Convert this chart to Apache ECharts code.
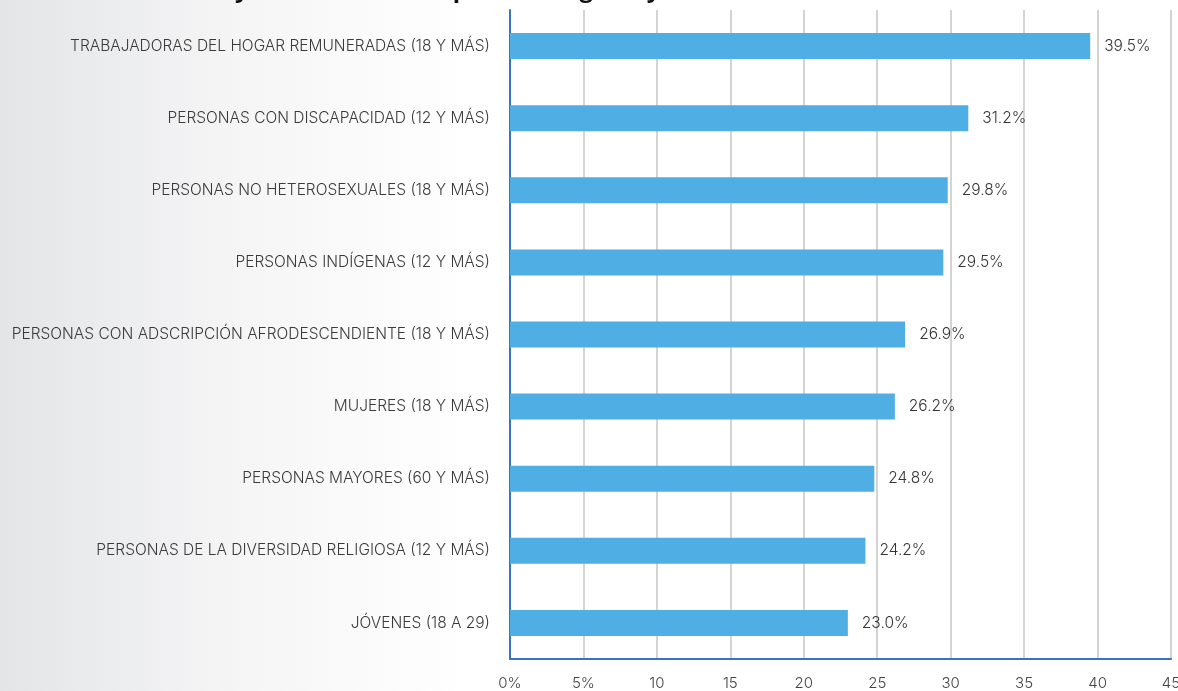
<!DOCTYPE html>
<html>
<head>
<meta charset="utf-8">
<script src="https://cdn.jsdelivr.net/npm/echarts@6/dist/echarts.min.js"></script>
<style>html,body{margin:0;padding:0;background:#fff}#c{width:1178px;height:691px}</style>
</head>
<body>
<div id="c"></div>
<script>
const titleText = 'Personas de 18 años y más rechazadas por la categoría y sexo';
const categories = [
  'TRABAJADORAS DEL HOGAR REMUNERADAS (18 Y MÁS)',
  'PERSONAS CON DISCAPACIDAD (12 Y MÁS)',
  'PERSONAS NO HETEROSEXUALES (18 Y MÁS)',
  'PERSONAS INDÍGENAS (12 Y MÁS)',
  'PERSONAS CON ADSCRIPCIÓN AFRODESCENDIENTE (18 Y MÁS)',
  'MUJERES (18 Y MÁS)',
  'PERSONAS MAYORES (60 Y MÁS)',
  'PERSONAS DE LA DIVERSIDAD RELIGIOSA (12 Y MÁS)',
  'JÓVENES (18 A 29)'
];
const values = [39.5, 31.2, 29.8, 29.5, 26.9, 26.2, 24.8, 24.2, 23.0];
const tickLabels = ['0%', '5%', '10', '15', '20', '25', '30', '35', '40', '45'];

const chart = echarts.init(document.getElementById('c'), null, {renderer: 'canvas'});
const font = 'Inter, "Open Sans", sans-serif';
chart.setOption({
  backgroundColor: {
    type: 'linear', x: 0, y: 0, x2: 1, y2: 0,
    colorStops: [
      {offset: 0, color: '#e4e5e7'},
      {offset: 0.2, color: '#f5f5f6'},
      {offset: 0.4, color: '#ffffff'},
      {offset: 1, color: '#ffffff'}
    ]
  },
  title: {
    text: titleText,
    left: -18, top: -27,
    textStyle: {fontFamily: '"Open Sans", sans-serif', fontWeight: 'bold', fontSize: 24, color: '#111'}
  },
  grid: {left: 510, right: 7, top: 10, bottom: 32, containLabel: false, outerBoundsMode: 'none'},
  xAxis: {
    type: 'value', min: 0, max: 45, interval: 5,
    axisLine: {show: true, lineStyle: {color: '#3a72c4', width: 2}},
    axisTick: {show: false},
    splitLine: {show: true, lineStyle: {color: '#d4d4d4', width: 2}},
    axisLabel: {
      margin: 17, fontSize: 15, color: '#444', fontFamily: font, fontWeight: 300,
      formatter: v => tickLabels[Math.round(v / 5)]
    }
  },
  yAxis: {
    type: 'category', data: categories, inverse: true,
    axisLine: {show: true, lineStyle: {color: '#3a72c4', width: 2}},
    axisTick: {show: false},
    axisLabel: {margin: 20, fontSize: 15.5, color: '#3a3a3a', fontFamily: font, fontWeight: 300}
  },
  series: [{
    type: 'bar', data: values, barWidth: 26,
    itemStyle: {color: '#4faee4'},
    label: {
      show: true, position: 'right', distance: 14,
      formatter: p => p.value.toFixed(1) + '%',
      fontSize: 15.5, color: '#333', fontFamily: font, fontWeight: 300
    }
  }]
});
</script>
</body>
</html>
